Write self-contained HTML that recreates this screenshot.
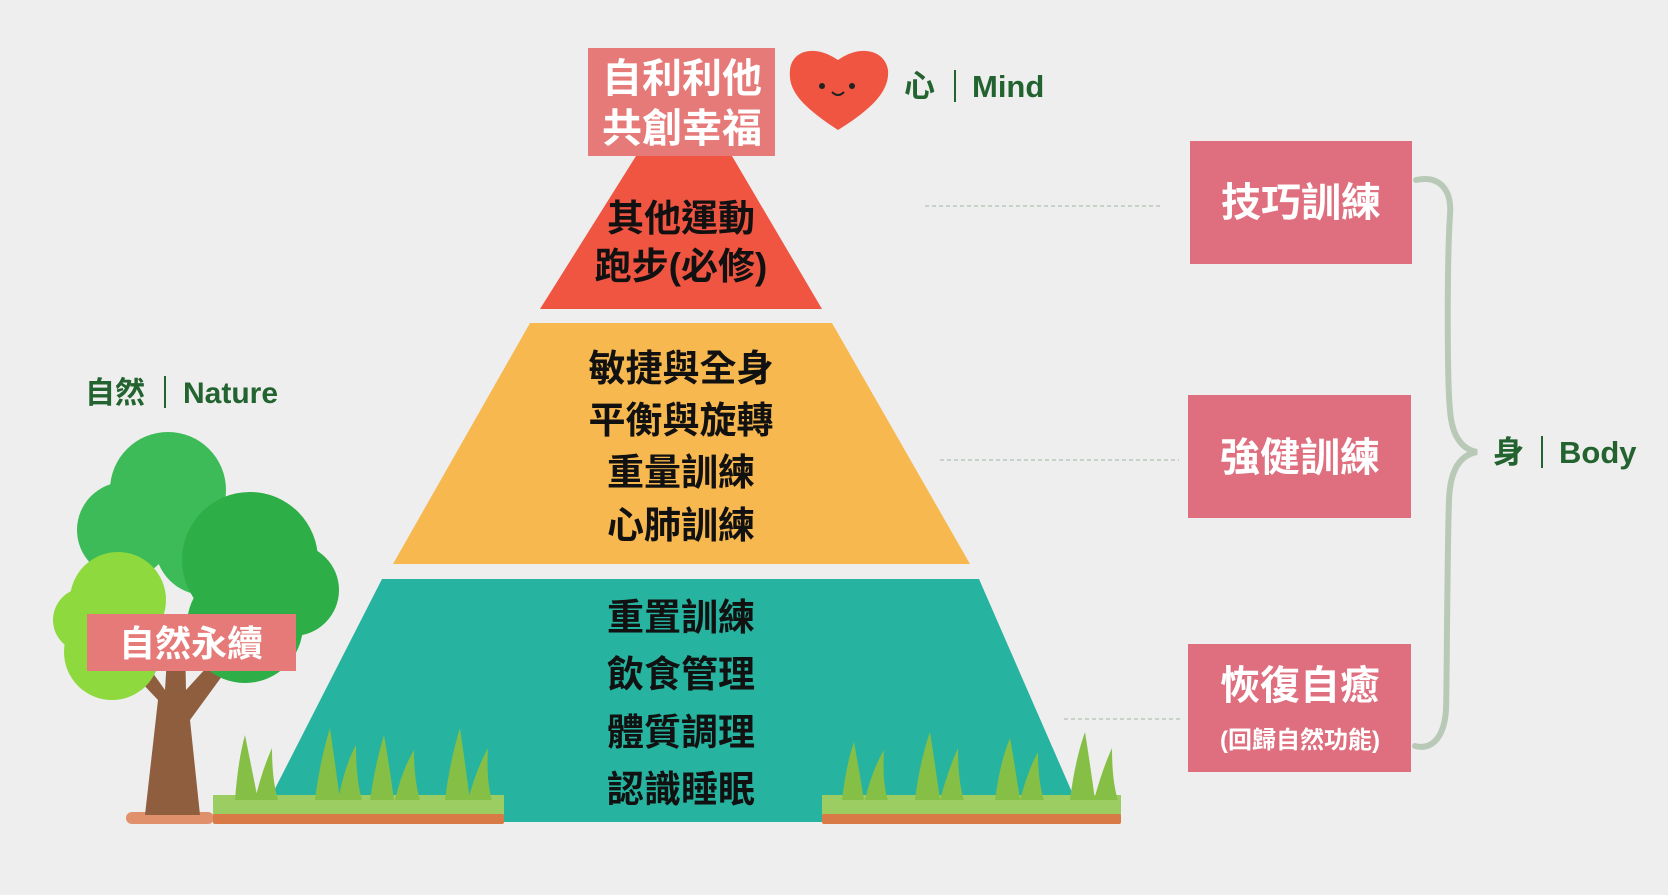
<!DOCTYPE html>
<html><head><meta charset="utf-8"><style>
html,body{margin:0;padding:0;background:#eeeeee;}
svg{display:block;}
text{font-family:"Liberation Sans","Noto Sans CJK TC",sans-serif;font-weight:bold;}
</style></head><body>
<svg width="1668" height="895" viewBox="0 0 1668 895" xmlns="http://www.w3.org/2000/svg">
<rect width="1668" height="895" fill="#eeeeee"/>
<polygon points="636,156 732,156 822,309 540,309" fill="#f05542"/>
<polygon points="530,323 832,323 970,564 393,564" fill="#f7b84f"/>
<polygon points="382,579 979,579 1085,822 258,822" fill="#26b39f"/>
<g stroke="#bcc8bb" stroke-width="1.5" stroke-dasharray="4,3">
<line x1="925" y1="206" x2="1163" y2="206"/>
<line x1="940" y1="460" x2="1179" y2="460"/>
<line x1="1064" y1="719" x2="1183" y2="719"/>
</g>
<g fill="#111" font-size="37" text-anchor="middle">
<text x="681" y="231">其他運動</text>
<text x="681" y="279">跑步(必修)</text>
<text x="681" y="381">敏捷與全身</text>
<text x="681" y="433">平衡與旋轉</text>
<text x="681" y="485">重量訓練</text>
<text x="681" y="538">心肺訓練</text>
<text x="681" y="630">重置訓練</text>
<text x="681" y="687">飲食管理</text>
<text x="681" y="745">體質調理</text>
<text x="681" y="802">認識睡眠</text>
</g>
<rect x="588" y="48" width="187" height="108" fill="#e57a78"/>
<g fill="#fff" font-size="40" text-anchor="middle">
<text x="682" y="92">自利利他</text>
<text x="682" y="142">共創幸福</text>
</g>
<path d="M838,130 C800,105 788,90 790,70 C792,50 815,44 838,60 C860,44 885,50 888,70 C890,92 870,110 838,130 Z" fill="#f05542"/>
<circle cx="822" cy="86" r="3" fill="#222"/><circle cx="852" cy="86" r="3" fill="#222"/>
<path d="M832,92 Q838,98 844,92" stroke="#222" stroke-width="2" fill="none"/>
<text x="904" y="97" font-size="31" fill="#236330">心</text>
<line x1="955" y1="70" x2="955" y2="102" stroke="#236330" stroke-width="2"/>
<text x="972" y="97" font-size="31" fill="#236330">Mind</text>
<text x="85" y="403" font-size="30" fill="#236330">自然</text>
<line x1="165" y1="376" x2="165" y2="408" stroke="#236330" stroke-width="2"/>
<text x="183" y="403" font-size="30" fill="#236330">Nature</text>
<rect x="126" y="812" width="88" height="12" rx="6" fill="#e0916c"/>
<path d="M145,815 L158,700 L120,660 L135,648 L165,690 L168,640 L185,640 L186,690 L218,655 L228,668 L190,720 L200,815 Z" fill="#8e5e3f"/>
<circle cx="168" cy="490" r="58" fill="#3dbb58"/>
<circle cx="125" cy="530" r="48" fill="#3dbb58"/>
<circle cx="205" cy="545" r="50" fill="#3dbb58"/>
<circle cx="250" cy="560" r="68" fill="#2eae46"/>
<circle cx="293" cy="590" r="46" fill="#2eae46"/>
<circle cx="245" cy="625" r="58" fill="#2eae46"/>
<circle cx="118" cy="600" r="48" fill="#8dd93e"/>
<circle cx="85" cy="620" r="32" fill="#8dd93e"/>
<circle cx="112" cy="652" r="48" fill="#8dd93e"/>
<rect x="87" y="614" width="209" height="57" fill="#e57a78"/>
<text x="191" y="656" font-size="36" fill="#fff" text-anchor="middle">自然永續</text>
<g>
<rect x="213" y="795" width="291" height="20" fill="#9ccd62"/>
<rect x="213" y="814" width="291" height="10" rx="2" fill="#d87a45"/>
<path d="M235,800 Q238,760 245,735 Q252,770 258,800 Z M255,800 Q262,770 272,748 Q272,780 278,800 Z M315,800 Q320,760 330,728 Q336,770 340,800 Z M338,800 Q345,765 356,745 Q356,780 362,800 Z M370,800 Q375,765 384,735 Q390,770 394,800 Z M395,800 Q402,770 414,750 Q414,780 420,800 Z M445,800 Q450,760 460,728 Q466,770 470,800 Z M468,800 Q476,770 488,748 Q486,780 492,800 Z" fill="#86bf46"/>
<rect x="822" y="795" width="299" height="20" fill="#9ccd62"/>
<rect x="822" y="814" width="299" height="10" rx="2" fill="#d87a45"/>
<path d="M842,800 Q846,765 854,742 Q860,775 864,800 Z M865,800 Q872,770 884,750 Q882,782 888,800 Z M915,800 Q920,760 930,732 Q936,770 940,800 Z M940,800 Q948,770 958,748 Q958,782 964,800 Z M995,800 Q1000,762 1010,738 Q1016,772 1020,800 Z M1020,800 Q1028,770 1038,752 Q1038,782 1044,800 Z M1070,800 Q1075,760 1085,732 Q1091,770 1095,800 Z M1094,800 Q1102,770 1112,748 Q1112,782 1118,800 Z" fill="#86bf46"/>
</g>
<rect x="1190" y="141" width="222" height="123" fill="#df6e7e"/>
<rect x="1188" y="395" width="223" height="123" fill="#df6e7e"/>
<rect x="1188" y="644" width="223" height="128" fill="#df6e7e"/>
<g fill="#fff" text-anchor="middle">
<text x="1301" y="216" font-size="40">技巧訓練</text>
<text x="1300" y="471" font-size="40">強健訓練</text>
<text x="1300" y="699" font-size="40">恢復自癒</text>
<text x="1300" y="748" font-size="24">(回歸自然功能)</text>
</g>
<path d="M1416,180 C1440,175 1452,190 1450,215 C1447,260 1447,380 1450,410 C1452,440 1465,450 1477,452 C1460,455 1450,470 1449,500 C1447,560 1447,680 1446,710 C1444,740 1430,750 1415,746" fill="none" stroke="#b9c9b7" stroke-width="6" stroke-linecap="round"/>
<text x="1493" y="463" font-size="31" fill="#236330">身</text>
<line x1="1542" y1="436" x2="1542" y2="468" stroke="#236330" stroke-width="2"/>
<text x="1559" y="463" font-size="31" fill="#236330">Body</text>
</svg>
</body></html>
